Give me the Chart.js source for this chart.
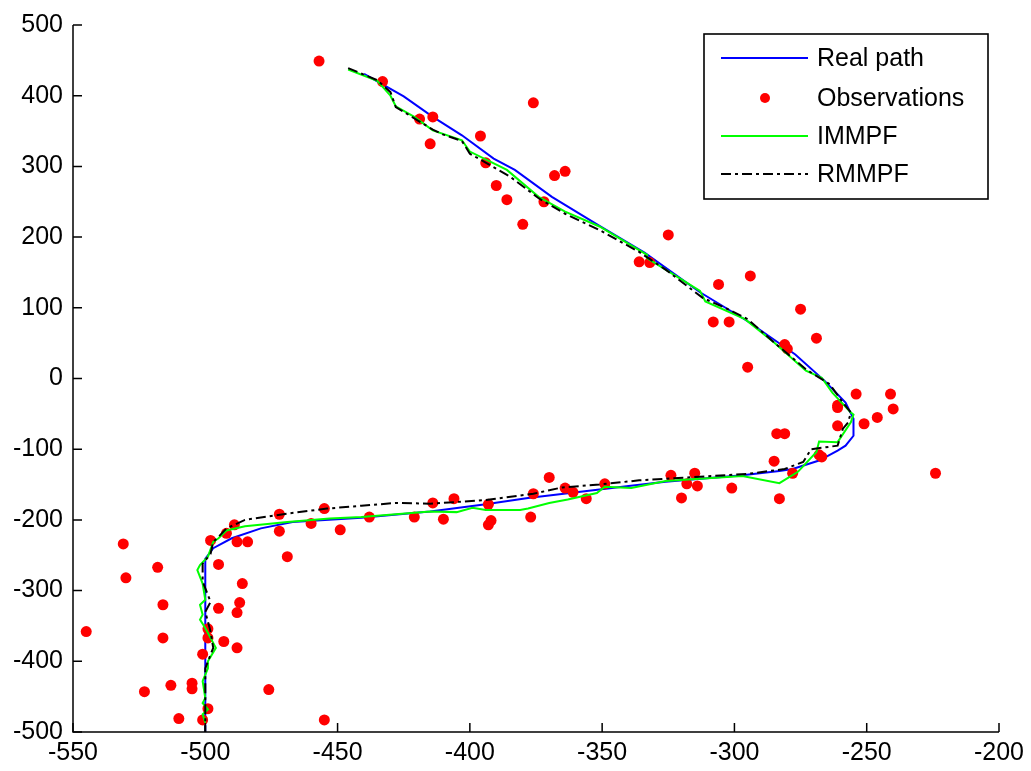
<!DOCTYPE html>
<html>
<head>
<meta charset="utf-8">
<script src="https://cdn.jsdelivr.net/npm/chart.js@4.4.0/dist/chart.umd.min.js"></script>
<style>
    body { margin: 0; background: #fff; }
    #grafico { display: block; }
</style>
</head>
<body>
<canvas id="grafico" width="1031" height="771"></canvas>
<script>
// eixos
var xTicks = [-550, -500, -450, -400, -350, -300, -250, -200];
var yTicks = [-500, -400, -300, -200, -100, 0, 100, 200, 300, 400, 500];

// Real path
var realX = [-440, -425, -414, -403, -391, -383, -369, -351, -334, -313, -295, -277, -266, -258, -255, -255, -258, -261, -268, -278, -283, -297, -326, -340, -351, -378, -394, -415, -441, -467, -479, -490, -497, -500, -500, -500];
var realY = [431, 399, 370, 344, 311, 295, 257, 216, 178, 122, 81, 34, -3, -34, -57, -81, -95, -102, -116, -128, -131, -137, -146, -152, -157, -169, -178, -188, -197, -203, -212, -226, -240, -255, -290, -500];

// Observations
var obsX = [-457, -433, -419, -414, -415, -376, -396, -394, -390, -386, -380, -372, -368, -364,
    -325, -336, -332, -294, -306, -275, -308, -302, -269, -281, -280, -295,
    -254, -241, -240, -246, -251, -261, -261, -261, -284, -281, -267, -268, -285, -278, -283, -224,
    -301, -324, -315, -318, -314, -320, -349, -370, -364, -361, -356, -376, -377, -393, -392, -393, -406, -414, -410, -421, -438, -449, -455,
    -472, -489, -492, -498, -488, -484, -460, -472, -469, -531, -530, -518, -495, -486, -516, -495, -487, -488, -545, -516, -499, -499, -493, -488, -501, -523, -513, -505, -505, -476, -499, -510, -501, -455];
var obsY = [449, 420, 367, 370, 332, 390, 343, 305, 273, 253, 218, 250, 287, 293,
    203, 165, 164, 145, 133, 98, 80, 80, 57, 48, 42, 16,
    -22, -22, -43, -55, -64, -38, -41, -67, -78, -78, -111, -108, -117, -134, -170, -134,
    -155, -137, -134, -149, -152, -169, -149, -140, -155, -161, -170, -163, -196, -178, -201, -207, -170, -176, -199, -196, -196, -214, -184,
    -192, -207, -219, -229, -231, -231, -205, -216, -252, -234, -282, -267, -263, -290, -320, -325, -317, -331, -358, -367, -354, -367, -372, -381, -390, -443, -434, -431, -439, -440, -467, -481, -483, -483];

// IMMPF
var immpfX = [-446, -435, -430, -428, -421, -414, -403, -400, -386, -374, -364, -351, -333, -333, -326, -313, -311, -296, -285, -273, -267, -263, -256, -255, -256, -261, -268, -269, -276, -283, -297, -326, -339, -349, -352, -363, -370, -378, -381, -394, -399, -405, -415, -441, -453, -469, -485, -492, -495, -497, -499, -502, -503, -501, -500, -502, -501, -502, -500, -496, -499, -499, -501, -500, -501, -499, -501, -500];
var immpfY = [437, 421, 400, 385, 370, 351, 337, 321, 295, 257, 236, 215, 175, 170, 154, 124, 109, 84, 51, 11, 1, -20, -48, -51, -62, -90, -89, -104, -132, -148, -138, -145, -155, -153, -162, -171, -176, -184, -186, -186, -183, -189, -188, -196, -198, -203, -209, -215, -226, -231, -252, -264, -271, -290, -313, -320, -334, -341, -353, -381, -400, -410, -428, -452, -459, -468, -475, -487];

// RMMPF
var rmmpfX = [-446, -435, -430, -428, -414, -410, -403, -400, -385, -374, -364, -351, -336, -326, -312, -303, -295, -285, -273, -264, -259, -256, -257, -259, -261, -271, -274, -281, -295, -313, -336, -351, -365, -376, -394, -415, -428, -441, -454, -469, -485, -492, -495, -497, -498, -501, -501, -498, -500, -498, -497, -500, -500, -500, -500];
var rmmpfY = [439, 422, 405, 384, 352, 345, 336, 318, 286, 255, 233, 210, 179, 154, 114, 99, 84, 51, 13, -8, -34, -48, -62, -71, -95, -100, -118, -128, -135, -139, -144, -150, -154, -163, -172, -177, -176, -180, -184, -191, -200, -212, -224, -231, -248, -262, -287, -316, -330, -358, -381, -410, -447, -475, -500];

function juntar(xs, ys) {
    return xs.map(function (x, i) { return { x: x, y: ys[i] } })
}

const fonte = '"Liberation Sans", Arial, sans-serif';

// legenda com caixa, eixos e marcas internas
const pluginMoldura = {
    id: 'moldura',
    afterDraw: function (chart) {
        const ctx = chart.ctx;
        const area = chart.chartArea;
        const sx = chart.scales.x;
        const sy = chart.scales.y;

        ctx.save();
        ctx.strokeStyle = '#000';
        ctx.lineWidth = 1.5;
        ctx.beginPath();
        ctx.moveTo(area.left, area.top);
        ctx.lineTo(area.left, area.bottom);
        ctx.lineTo(area.right, area.bottom);
        ctx.stroke();

        ctx.beginPath();
        xTicks.forEach(function (v) {
            const px = sx.getPixelForValue(v);
            ctx.moveTo(px, area.bottom);
            ctx.lineTo(px, area.bottom - 9);
        });
        yTicks.forEach(function (v) {
            const py = sy.getPixelForValue(v);
            ctx.moveTo(area.left, py);
            ctx.lineTo(area.left + 9, py);
        });
        ctx.stroke();

        // caixa da legenda
        ctx.fillStyle = '#fff';
        ctx.fillRect(704, 34, 284, 165);
        ctx.lineWidth = 1.6;
        ctx.strokeRect(704, 34, 284, 165);

        const linhas = [58, 98, 136, 174];
        ctx.font = '25px ' + fonte;
        ctx.textBaseline = 'middle';
        chart.data.datasets.forEach(function (ds, i) {
            const y = linhas[i];
            if (ds.showLine) {
                ctx.strokeStyle = ds.borderColor;
                ctx.lineWidth = ds.borderWidth;
                ctx.setLineDash(ds.borderDash || []);
                ctx.beginPath();
                ctx.moveTo(721, y);
                ctx.lineTo(808, y);
                ctx.stroke();
                ctx.setLineDash([]);
            } else {
                ctx.fillStyle = ds.backgroundColor;
                ctx.beginPath();
                ctx.arc(765, y, 5, 0, Math.PI * 2);
                ctx.fill();
            }
            ctx.fillStyle = '#000';
            ctx.fillText(ds.label, 817, y + 1);
        });
        ctx.restore();
    }
};

const config_grafico = {
    type: 'scatter',
    data: {
        datasets: [
            {
                label: 'Real path',
                data: juntar(realX, realY),
                showLine: true,
                borderColor: '#0000ff',
                borderWidth: 2,
                pointRadius: 0,
                order: 4
            },
            {
                label: 'Observations',
                data: juntar(obsX, obsY),
                showLine: false,
                backgroundColor: '#ff0000',
                borderWidth: 0,
                pointRadius: 5.5,
                order: 3
            },
            {
                label: 'IMMPF',
                data: juntar(immpfX, immpfY),
                showLine: true,
                borderColor: '#00ff00',
                borderWidth: 2,
                pointRadius: 0,
                order: 2
            },
            {
                label: 'RMMPF',
                data: juntar(rmmpfX, rmmpfY),
                showLine: true,
                borderColor: '#000000',
                borderWidth: 2,
                borderDash: [10, 4, 3, 4],
                pointRadius: 0,
                order: 1
            }
        ]
    },
    options: {
        responsive: false,
        animation: false,
        layout: {
            padding: { top: 21, right: 32, left: 0, bottom: 0 }
        },
        scales: {
            x: {
                type: 'linear',
                min: -550,
                max: -200,
                afterFit: function (scale) { scale.height = 39 },
                afterBuildTicks: function (scale) { scale.ticks = xTicks.map(function (v) { return { value: v } }) },
                grid: { display: false, drawTicks: false },
                border: { display: false },
                ticks: {
                    color: '#000',
                    padding: 6,
                    maxRotation: 0,
                    autoSkip: false,
                    font: { size: 25, family: fonte },
                    callback: function (v) { return String(v) }
                }
            },
            y: {
                type: 'linear',
                min: -500,
                max: 500,
                afterFit: function (scale) { scale.width = 73 },
                afterBuildTicks: function (scale) { scale.ticks = yTicks.map(function (v) { return { value: v } }) },
                grid: { display: false, drawTicks: false },
                border: { display: false },
                ticks: {
                    color: '#000',
                    padding: 10,
                    autoSkip: false,
                    font: { size: 25, family: fonte },
                    callback: function (v) { return String(v) }
                }
            }
        },
        plugins: {
            legend: { display: false },
            tooltip: { enabled: false }
        }
    },
    plugins: [pluginMoldura]
};

const grafico = new Chart(document.getElementById('grafico'), config_grafico);
</script>
</body>
</html>
